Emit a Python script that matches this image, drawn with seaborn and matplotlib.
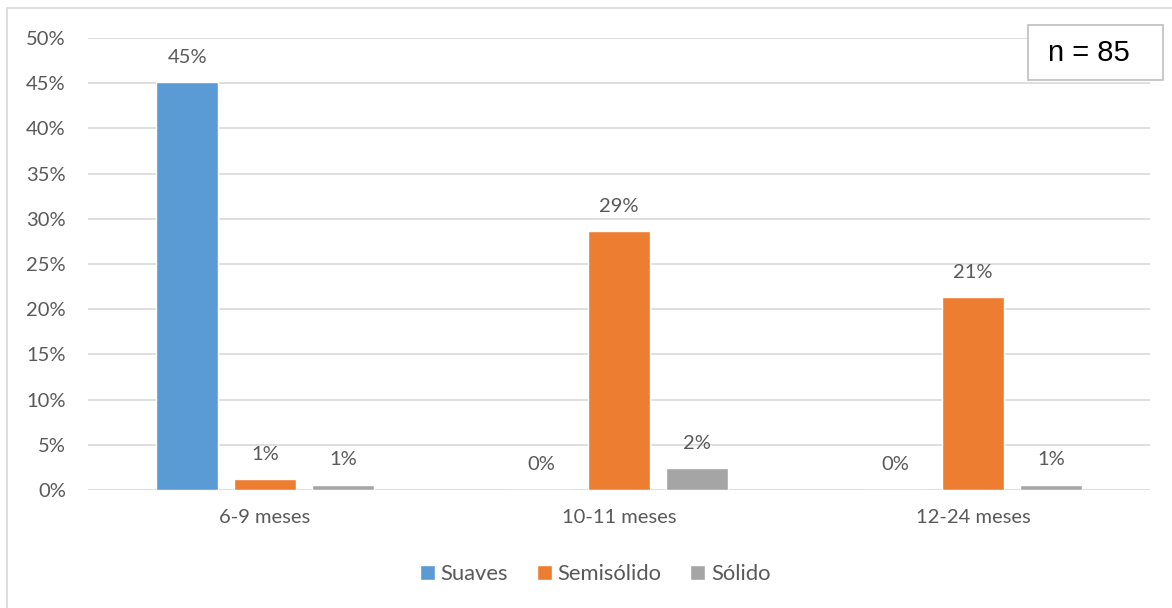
import matplotlib
matplotlib.use("Agg")
import matplotlib.pyplot as plt
from matplotlib.patches import Rectangle
import seaborn as sns
import pandas as pd

# Data (percent of children, n = 85)
grupos = ["6-9 meses", "10-11 meses", "12-24 meses"]
consistencias = ["Suaves", "Semisólido", "Sólido"]
suaves = [45.1, 0.0, 0.0]
semisolido = [1.2, 28.6, 21.3]
solido = [0.6, 2.4, 0.6]
colores = ["#5b9bd5", "#ed7d31", "#a5a5a5"]
yticks = [0, 5, 10, 15, 20, 25, 30, 35, 40, 45, 50]

df = pd.DataFrame({
    "grupo": grupos * 3,
    "consistencia": [c for c in consistencias for _ in grupos],
    "valor": suaves + semisolido + solido,
})

sns.set_theme(style="white")
plt.rcParams["font.family"] = ["Lato", "DejaVu Sans"]
txt = "#595959"
fs = 14.5

W, H = 1172, 608
fig = plt.figure(figsize=(W / 100, H / 100), dpi=100)
ax = fig.add_axes([88 / W, 1 - 490 / H, (1150 - 88) / W, (490 - 38) / H])

sns.barplot(data=df, x="grupo", y="valor", hue="consistencia",
            hue_order=consistencias, order=grupos, palette=colores,
            width=0.66, gap=0.2, saturation=1, ax=ax, legend=True,
            errorbar=None)

ax.set_ylim(0, 50)
ax.set_yticks(yticks)
ax.set_yticklabels([f"{v}%" for v in yticks], fontsize=fs, color=txt)
ax.yaxis.grid(True, color="#d9d9d9", linewidth=1.2)
ax.set_axisbelow(True)
for s in ax.spines.values():
    s.set_visible(False)
ax.tick_params(axis="y", length=0, pad=16)
ax.tick_params(axis="x", length=0, pad=14, labelsize=fs, labelcolor=txt)
ax.set_xlabel("")
ax.set_ylabel("")

# value labels above each bar
for cont in ax.containers:
    for bar in cont:
        h = bar.get_height()
        ax.annotate(f"{h:.0f}%", (bar.get_x() + bar.get_width() / 2, h),
                    xytext=(0, 18), textcoords="offset points",
                    ha="center", va="center", fontsize=fs, color=txt)

leg = ax.legend(loc="center", bbox_to_anchor=((595 - 88) / 1062, (490 - 574) / (490 - 38)),
                ncol=3, frameon=False, fontsize=15.8, handlelength=0.7,
                handleheight=0.7, handletextpad=0.25, columnspacing=1.3)
for t in leg.get_texts():
    t.set_color(txt)

# outer chart frame
fig.patches.append(Rectangle((7 / W, -0.1), 1.2, 1.1 - 8 / H,
                             transform=fig.transFigure, fill=False,
                             edgecolor="#d9d9d9", linewidth=1.2, zorder=0))

# sample size box
fig.patches.append(Rectangle((1028 / W, 1 - 80 / H), 135 / W, 55 / H,
                             transform=fig.transFigure, facecolor="white",
                             edgecolor="#bfbfbf", linewidth=1.2, zorder=3))
fig.text(1089 / W, 1 - 53 / H, "n = 85", ha="center", va="center",
         fontsize=21, color="black", family="Liberation Sans", zorder=4)

fig.savefig("out.png", dpi=100)
